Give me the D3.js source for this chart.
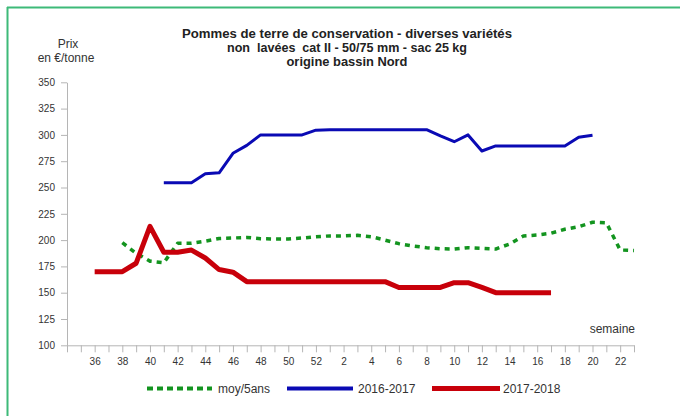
<!DOCTYPE html>
<html>
<head>
<meta charset="utf-8">
<script src="https://cdn.jsdelivr.net/npm/d3@7/dist/d3.min.js"></script>
<style>
  html, body { margin: 0; padding: 0; background: #fff; }
  svg { display: block; font-family: "Liberation Sans", Arial, sans-serif; }
</style>
</head>
<body>
<svg id="chart" width="680" height="416"></svg>
<script>
// ---- Data ----
const weeks = ["34","35","36","37","38","39","40","41","42","43","44","45","46","47","48","49","50","51","52",
  "1","2","3","4","5","6","7","8","9","10","11","12","13","14","15","16","17","18","19","20","21","22","23"];
const weekLabels = ["36","38","40","42","44","46","48","50","52","2","4","6","8","10","12","14","16","18","20","22"];
const yTicks = [100,125,150,175,200,225,250,275,300,325,350];

const moyWeeks = ["38","39","40","41","42","43","44","45","46","47","48","49","50","51","52",
  "1","2","3","4","5","6","7","8","9","10","11","12","13","14","15","16","17","18","19","20","21","22","23"];
const moyValues = [197.5,187.5,180,178.5,197,197,199,201.5,202,202.5,201.3,201,201,202,203.2,
  204,204,204.5,203.2,200,196.6,194.4,192.8,191.8,191.5,192.8,192.2,191.5,196.3,203.9,204.8,206.5,210.3,212.7,217,216.5,190.6,190];

const s1617Weeks = ["41","42","43","44","45","46","47","48","49","50","51","52",
  "1","2","3","4","5","6","7","8","9","10","11","12","13","14","15","16","17","18","19","20"];
const s1617Values = [254.6,254.6,254.6,263,264,282.5,290,300,300,300,300,304.5,
  305,305,305,305,305,305,305,305,299,293.5,300,284.7,289.5,289.5,289.5,289.5,289.5,289.5,297.7,299.6];

const s1718Weeks = ["36","37","38","39","40","41","42","43","44","45","46","47","48","49","50","51","52",
  "1","2","3","4","5","6","7","8","9","10","11","12","13","14","15","16","17"];
const s1718Values = [170,170,170,178,213,188.5,188.5,190.5,183,172,169.5,160.5,160.5,160.5,160.5,160.5,160.5,
  160.5,160.5,160.5,160.5,160.5,155,155,155,155,159.5,159.5,155,150,150,150,150,150];

const titleLines = ["Pommes de terre de conservation - diverses variétés",
  "non  lavées  cat II - 50/75 mm - sac 25 kg",
  "origine bassin Nord"];
const legendNames = ["moy/5ans","2016-2017","2017-2018"];

// ---- Chart ----
const svg = d3.select("#chart");
const textColor = "#333";
const axisColor = "#b5b5b5";

// frame border (top + left)
svg.append("line").attr("x1",7).attr("x2",680).attr("y1",7.5).attr("y2",7.5)
  .attr("stroke","#3dba78").attr("stroke-width",2);
svg.append("line").attr("x1",7.5).attr("x2",7.5).attr("y1",7).attr("y2",416)
  .attr("stroke","#3dba78").attr("stroke-width",2);

const x = d3.scalePoint().domain(weeks).range([67, 634]);
const y = d3.scaleLinear().domain([100, 350]).range([345.3, 82.3]);

// title
const titleX = 347, titleY = [38, 52, 66], titleLen = [330, 240, 121];
titleLines.forEach((t, i) => {
  svg.append("text").attr("x", titleX).attr("y", titleY[i])
    .attr("text-anchor","middle").attr("font-size",13).attr("font-weight","bold")
    .attr("fill","#222").attr("xml:space","preserve").style("white-space","pre")
    .attr("textLength", titleLen[i]).attr("lengthAdjust","spacingAndGlyphs")
    .text(t);
});

// y title
svg.append("text").attr("x",68).attr("y",48).attr("text-anchor","middle")
  .attr("font-size",12).attr("fill",textColor).text("Prix");
svg.append("text").attr("x",66).attr("y",62).attr("text-anchor","middle")
  .attr("font-size",12).attr("fill",textColor).text("en €/tonne");

// y axis
const yAxis = svg.append("g").attr("transform","translate(67,0)")
  .call(d3.axisLeft(y).tickValues(yTicks).tickSize(6).tickPadding(6).tickSizeOuter(0));
yAxis.select(".domain").attr("stroke",axisColor);
yAxis.selectAll(".tick line").attr("stroke",axisColor);
yAxis.selectAll(".tick text").attr("font-size",10).attr("fill",textColor)
  .attr("font-family","Liberation Sans, Arial, sans-serif");

// x axis
const xAxis = svg.append("g").attr("transform","translate(0,345.3)")
  .call(d3.axisBottom(x).tickSize(7).tickPadding(6).tickSizeOuter(0)
    .tickFormat(d => weekLabels.includes(d) ? d : ""));
xAxis.select(".domain").attr("stroke",axisColor);
xAxis.selectAll(".tick line").attr("stroke",axisColor);
xAxis.selectAll(".tick text").attr("font-size",10).attr("fill",textColor)
  .attr("font-family","Liberation Sans, Arial, sans-serif");

// x title
svg.append("text").attr("x",635).attr("y",333).attr("text-anchor","end")
  .attr("font-size",12).attr("fill",textColor).text("semaine");

// lines
const line = d3.line().x(d => x(d.w)).y(d => y(d.v)).curve(d3.curveLinear);
const zip = (ws, vs) => ws.map((w, i) => ({w, v: vs[i]}));

const series = [
  {data: zip(moyWeeks, moyValues), color: "#13941f", width: 3.5, dash: "5,5"},
  {data: zip(s1617Weeks, s1617Values), color: "#0a0ab4", width: 3, dash: null},
  {data: zip(s1718Weeks, s1718Values), color: "#c8000a", width: 5, dash: null}
];
series.forEach(s => {
  svg.append("path").datum(s.data).attr("d", line)
    .attr("fill","none").attr("stroke", s.color).attr("stroke-width", s.width)
    .attr("stroke-dasharray", s.dash).attr("stroke-linejoin","round");
});

// legend
const legendY = 388.5;
const legendSamples = [[147, 212], [287, 353], [432, 500]];
const legendTextX = [218, 358, 503];
series.forEach((s, i) => {
  svg.append("line").attr("x1", legendSamples[i][0]).attr("x2", legendSamples[i][1])
    .attr("y1", legendY).attr("y2", legendY)
    .attr("stroke", s.color).attr("stroke-width", i === 2 ? 5 : 4)
    .attr("stroke-dasharray", s.dash ? "6,4" : null);
  svg.append("text").attr("x", legendTextX[i]).attr("y", legendY + 4.5)
    .attr("font-size",12).attr("fill",textColor).text(legendNames[i]);
});
</script>
</body>
</html>
